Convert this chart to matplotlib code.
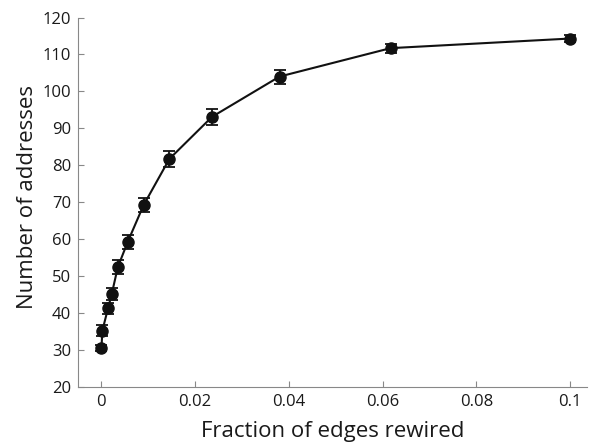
import matplotlib
matplotlib.use("Agg")
import matplotlib.pyplot as plt

fraction = [0.0, 0.0002, 0.0014, 0.0022, 0.0035, 0.0056, 0.009, 0.0145, 0.0236, 0.038, 0.0617, 0.1]
addresses = [30.4, 35.2, 41.2, 45.1, 52.4, 59.2, 69.2, 81.7, 93.1, 104.0, 111.7, 114.3]
errors = [0.8, 1.5, 1.6, 1.7, 1.8, 1.9, 2.0, 2.2, 2.2, 1.9, 1.2, 0.9]

xticks = [0, 0.02, 0.04, 0.06, 0.08, 0.1]
xticklabels = ["0", "0.02", "0.04", "0.06", "0.08", "0.1"]
yticks = [20, 30, 40, 50, 60, 70, 80, 90, 100, 110, 120]

plt.rcParams['font.family'] = ['Open Sans', 'DejaVu Sans']

fig = plt.figure(figsize=(5.89, 4.43), dpi=100)
ax = fig.add_axes([78/589, 56.3/443, 508.5/589, 369.2/443])

ax.errorbar(fraction, addresses, yerr=errors, fmt='o-', color='#111111',
            markersize=8, linewidth=1.5, elinewidth=1.3, capsize=4, capthick=1.3)

ax.set_xlim(-0.005, 0.1035)
ax.set_ylim(20, 120)
ax.set_xticks(xticks)
ax.set_xticklabels(xticklabels)
ax.set_yticks(yticks)

for s in ['top', 'right']:
    ax.spines[s].set_visible(False)
for s in ['left', 'bottom']:
    ax.spines[s].set_color('#888888')
    ax.spines[s].set_linewidth(0.8)

ax.tick_params(direction='in', length=4, width=0.8, color='#888888',
               labelsize=12, labelcolor='#1a1a1a', pad=5)

ax.set_xlabel("Fraction of edges rewired", fontsize=16, color='#1a1a1a', labelpad=8.5)
ax.set_ylabel("Number of addresses", fontsize=16, color='#1a1a1a')
ax.yaxis.set_label_coords(-0.079, 0.515)

fig.savefig("out.png", dpi=100)
